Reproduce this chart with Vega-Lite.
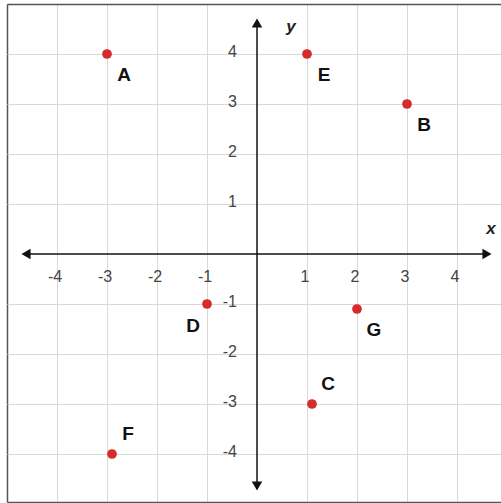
{
  "$schema": "https://vega.github.io/schema/vega-lite/v6.json",
  "width": 494,
  "height": 498,
  "autosize": {"type": "none"},
  "padding": {"left": 7, "top": 4, "right": 0, "bottom": 1},
  "background": "white",
  "config": {"view": {"stroke": null}},
  "datasets": {
    "points": [
      {"name": "A", "x": -3, "y": 4},
      {"name": "E", "x": 1, "y": 4},
      {"name": "B", "x": 3, "y": 3},
      {"name": "G", "x": 2, "y": -1.1},
      {"name": "D", "x": -1, "y": -1},
      {"name": "C", "x": 1.1, "y": -3},
      {"name": "F", "x": -2.9, "y": -4}
    ],
    "ticks": [
      {"v": -4, "t": "-4"}, {"v": -3, "t": "-3"}, {"v": -2, "t": "-2"}, {"v": -1, "t": "-1"},
      {"v": 1, "t": "1"}, {"v": 2, "t": "2"}, {"v": 3, "t": "3"}, {"v": 4, "t": "4"}
    ],
    "axislines": [
      {"axis": "x", "x": -4.64, "x2": 4.62, "y": 0, "y2": 0},
      {"axis": "y", "x": 0, "x2": 0, "y": -4.64, "y2": 4.64}
    ],
    "arrows": [
      {"dir": "left", "x": -4.62, "y": 0},
      {"dir": "right", "x": 4.6, "y": 0},
      {"dir": "up", "x": 0, "y": 4.62},
      {"dir": "down", "x": 0, "y": -4.64}
    ],
    "axisnames": [
      {"label": "x", "x": 4.68, "y": 0.5},
      {"label": "y", "x": 0.68, "y": 4.55}
    ]
  },
  "layer": [
    {
      "data": {"name": "ticks"},
      "mark": {"type": "point", "opacity": 0},
      "encoding": {
        "x": {
          "field": "v", "type": "quantitative",
          "scale": {"domain": [-5, 4.88], "nice": false, "zero": false},
          "axis": {
            "orient": "bottom", "title": null, "labels": false, "ticks": false,
            "domain": true, "domainColor": "#555", "domainWidth": 1.5,
            "values": [-5, -4, -3, -2, -1, 1, 2, 3, 4],
            "grid": true,
            "gridColor": {"condition": {"test": "datum.value === -5", "value": "#555"}, "value": "#d9d9d9"},
            "gridWidth": {"condition": {"test": "datum.value === -5", "value": 1.5}, "value": 1}
          }
        },
        "y": {
          "field": "v", "type": "quantitative",
          "scale": {"domain": [-4.96, 5], "nice": false, "zero": false},
          "axis": {
            "orient": "left", "title": null, "labels": false, "ticks": false,
            "domain": false,
            "values": [-4, -3, -2, -1, 1, 2, 3, 4, 5],
            "grid": true,
            "gridColor": {"condition": {"test": "datum.value === 5", "value": "#555"}, "value": "#d9d9d9"},
            "gridWidth": {"condition": {"test": "datum.value === 5", "value": 1.5}, "value": 1}
          }
        }
      }
    },
    {
      "data": {"name": "axislines"},
      "mark": {"type": "rule", "color": "#111", "strokeWidth": 1.5},
      "encoding": {
        "x": {"field": "x", "type": "quantitative"},
        "x2": {"field": "x2"},
        "y": {"field": "y", "type": "quantitative"},
        "y2": {"field": "y2"}
      }
    },
    {
      "data": {"name": "arrows"},
      "mark": {"type": "point", "filled": true, "opacity": 1, "color": "#111", "size": 110},
      "encoding": {
        "x": {"field": "x", "type": "quantitative"},
        "y": {"field": "y", "type": "quantitative"},
        "shape": {
          "field": "dir", "type": "nominal", "legend": null,
          "scale": {"domain": ["left", "right", "up", "down"], "range": ["triangle-left", "triangle-right", "triangle-up", "triangle-down"]}
        }
      }
    },
    {
      "data": {"name": "ticks"},
      "mark": {"type": "text", "font": "Liberation Sans", "fontSize": 16, "color": "#444", "align": "center", "baseline": "middle", "dx": -2, "dy": 23},
      "encoding": {
        "x": {"field": "v", "type": "quantitative"},
        "y": {"datum": 0},
        "text": {"field": "t", "type": "nominal"}
      }
    },
    {
      "data": {"name": "ticks"},
      "mark": {"type": "text", "font": "Liberation Sans", "fontSize": 16, "color": "#444", "align": "right", "baseline": "middle", "dx": -20, "dy": -2},
      "encoding": {
        "x": {"datum": 0},
        "y": {"field": "v", "type": "quantitative"},
        "text": {"field": "t", "type": "nominal"}
      }
    },
    {
      "data": {"name": "axisnames"},
      "mark": {"type": "text", "font": "Liberation Sans", "fontSize": 17, "fontStyle": "italic", "fontWeight": "bold", "color": "#222", "align": "center", "baseline": "middle"},
      "encoding": {
        "x": {"field": "x", "type": "quantitative"},
        "y": {"field": "y", "type": "quantitative"},
        "text": {"field": "label"}
      }
    },
    {
      "data": {"name": "points"},
      "mark": {"type": "circle", "color": "#d42b2b", "opacity": 1, "size": 95},
      "encoding": {
        "x": {"field": "x", "type": "quantitative"},
        "y": {"field": "y", "type": "quantitative"}
      }
    },
    {
      "data": {"name": "points"},
      "transform": [{"filter": "indexof(['D','C','F'], datum.name) < 0"}],
      "mark": {"type": "text", "font": "Liberation Sans", "fontSize": 19, "fontWeight": "bold", "color": "#111", "align": "center", "baseline": "middle", "dx": 17, "dy": 21},
      "encoding": {
        "x": {"field": "x", "type": "quantitative"},
        "y": {"field": "y", "type": "quantitative"},
        "text": {"field": "name"}
      }
    },
    {
      "data": {"name": "points"},
      "transform": [{"filter": "datum.name === 'D'"}],
      "mark": {"type": "text", "font": "Liberation Sans", "fontSize": 19, "fontWeight": "bold", "color": "#111", "align": "center", "baseline": "middle", "dx": -14, "dy": 22},
      "encoding": {
        "x": {"field": "x", "type": "quantitative"},
        "y": {"field": "y", "type": "quantitative"},
        "text": {"field": "name"}
      }
    },
    {
      "data": {"name": "points"},
      "transform": [{"filter": "datum.name === 'C' || datum.name === 'F'"}],
      "mark": {"type": "text", "font": "Liberation Sans", "fontSize": 19, "fontWeight": "bold", "color": "#111", "align": "center", "baseline": "middle", "dx": 16, "dy": -20},
      "encoding": {
        "x": {"field": "x", "type": "quantitative"},
        "y": {"field": "y", "type": "quantitative"},
        "text": {"field": "name"}
      }
    }
  ]
}
